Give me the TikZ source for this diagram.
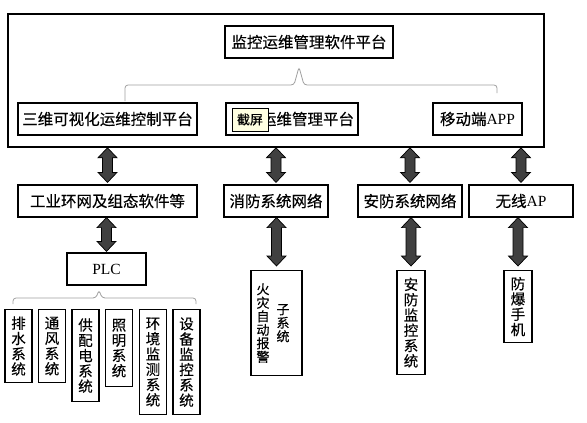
\documentclass[tikz,border=0pt]{standalone}
\usepackage{fontspec}
\setmainfont{Liberation Serif}
\newfontfamily\cjk[FakeBold=0.4]{Noto Sans CJK SC}
\usetikzlibrary{calc}
\definecolor{arrowgray}{HTML}{404040}
\definecolor{bracegray}{HTML}{A0A0A0}
\definecolor{tipyellow}{HTML}{FFFFE1}
\tikzset{
  frame/.style={draw, line width=1.2pt, fill=white},
  box/.style={frame, minimum height=32pt, inner xsep=4pt, inner ysep=2pt,
    font=\cjk\fontsize{15.5}{17}\selectfont},
  vbox/.style={frame, anchor=north, align=center, minimum width=27pt,
    inner xsep=3pt, inner ysep=2pt, font=\cjk\fontsize{14.5}{15.3}\selectfont},
  brace/.style={draw=bracegray, line width=0.8pt, rounded corners=3pt},
  fatarrow/.style={draw=black, line width=0.7pt, fill=arrowgray,
    to path={let \p1=(\tikztostart), \p2=(\tikztotarget) in
      -- (\x1-9.5pt,\y1-10pt) -- (\x1-5pt,\y1-10pt) -- (\x1-5pt,\y2+10pt)
      -- (\x1-9.5pt,\y2+10pt) -- (\x1,\y2) -- (\x1+9.5pt,\y2+10pt)
      -- (\x1+5pt,\y2+10pt) -- (\x1+5pt,\y1-10pt) -- (\x1+9.5pt,\y1-10pt) -- cycle}}
}
\begin{document}
\begin{tikzpicture}[x=1pt,y=-1pt]
  \useasboundingbox (0,0) rectangle (587,423);

  \node[frame, line width=1.5pt, minimum width=536pt, minimum height=133pt] (platform) at (276,80.5) {};

  \begin{scope}[every node/.style={box}]
    \node[minimum width=168pt] (monitor) at (309,42)    {监控运维管理软件平台};
    \node[minimum width=179pt] (vis3d)   at (107.5,119) {三维可视化运维控制平台};
    \node[minimum width=132pt] (opsmgr)  at (292,119)   {\phantom{运维}运维管理平台};
    \node[minimum width=89pt]  (mobile)  at (477.5,119) {移动端{\rmfamily APP}};
    \node[minimum width=179pt] (ring)    at (107.5,201) {工业环网及组态软件等};
    \node[minimum width=104pt] (firenet) at (276,201)   {消防系统网络};
    \node[minimum width=104pt] (secnet)  at (410,201)   {安防系统网络};
    \node[minimum width=104pt] (wifi)    at (521,201)   {无线{\rmfamily AP}};
    \node[minimum width=79pt]  (plc)     at (106.5,269) {{\rmfamily PLC}};
  \end{scope}

  \node[draw, line width=0.6pt, fill=tipyellow, minimum width=36pt, minimum height=23pt,
    inner sep=1pt, font=\cjk\fontsize{13}{14}\selectfont] (snip) at (250,119.5) {截屏};

  \begin{scope}[every node/.style={vbox}]
    \node[minimum height=73pt]  (drain) at (18.5,309) {排\\水\\系\\统};
    \node[minimum height=73pt]  (vent)  at (52,309)   {通\\风\\系\\统};
    \node[minimum height=92pt]  (power) at (85.5,309) {供\\配\\电\\系\\统};
    \node[minimum height=77pt]  (light) at (119,309)  {照\\明\\系\\统};
    \node[minimum height=105pt] (env)   at (153,309)  {环\\境\\监\\测\\系\\统};
    \node[minimum height=105pt] (equip) at (186.5,309) {设\\备\\监\\控\\系\\统};
    \node[minimum width=28pt, minimum height=104pt] (secmon) at (411,270) {安\\防\\监\\控\\系\\统};
    \node[minimum width=28pt, minimum height=72pt]  (phone)  at (518,270) {防\\爆\\手\\机};
  \end{scope}

  \node[frame, anchor=north, minimum width=51pt, minimum height=105pt, inner sep=0pt,
    font=\cjk\fontsize{13}{13.5}\selectfont] (firealarm) at (276.5,270)
    {\parbox[t]{13pt}{\centering 火\\灾\\自\\动\\报\\警}\hspace*{7pt}%
     \raisebox{-20pt}{\parbox[t]{13pt}{\centering 子\\系\\统}}\hspace*{7pt}};

  \draw[brace] (125,101) -- (125,85) -- (294,85) -- (299,67) -- (304,85) -- (497,85) -- (497,93);
  \draw[brace] (13,304) -- (13,298) -- (96,298) -- (99,290) -- (102,298) -- (196,298) -- (196,304);

  \draw[fatarrow] (ring.north |- platform.south)    to ([yshift=2pt]ring.north);
  \draw[fatarrow] (firenet.north |- platform.south) to ([yshift=2pt]firenet.north);
  \draw[fatarrow] (secnet.north |- platform.south)  to ([yshift=2pt]secnet.north);
  \draw[fatarrow] (wifi.north |- platform.south)    to ([yshift=2pt]wifi.north);
  \draw[fatarrow] (plc.north |- ring.south)         to ([yshift=1pt]plc.north);
  \draw[fatarrow] (firealarm.north |- firenet.south) to ([yshift=4pt]firealarm.north);
  \draw[fatarrow] (secmon.north |- secnet.south)    to ([yshift=4pt]secmon.north);
  \draw[fatarrow] (phone.north |- wifi.south)       to ([yshift=4pt]phone.north);

\end{tikzpicture}
\end{document}
